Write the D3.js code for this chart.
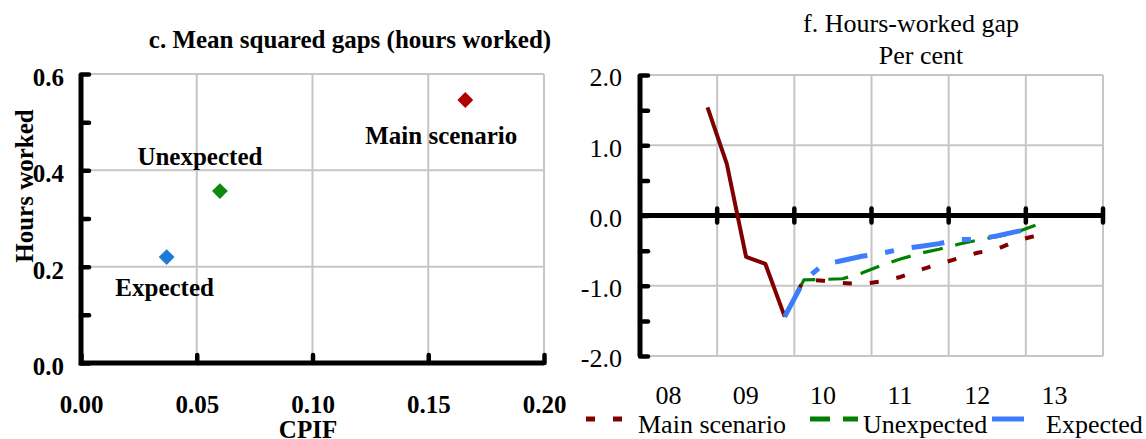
<!DOCTYPE html>
<html>
<head>
<meta charset="utf-8">
<script src="https://cdn.jsdelivr.net/npm/d3@7"></script>
<style>
  html, body { margin: 0; padding: 0; background: #fff; }
  svg, svg text { font-family: "Liberation Serif", "Times New Roman", serif; }
  svg { display: block; }
</style>
</head>
<body>
<div id="chart"></div>
<script>
// panel c: mean squared gaps
const scenarioNames = ["Main scenario", "Unexpected", "Expected"];
const cpifGap = [0.166, 0.060, 0.037];
const hoursGap = [0.546, 0.357, 0.220];

// panel f: hours-worked gap, quarterly
const outcomeQuarters = ["2008Q4", "2009Q1", "2009Q2", "2009Q3", "2009Q4"];
const outcome = [1.54, 0.735, -0.59, -0.69, -1.44];

const forecastQuarters = [
  "2009Q4", "2010Q1", "2010Q2", "2010Q3", "2010Q4", "2011Q1", "2011Q2",
  "2011Q3", "2011Q4", "2012Q1", "2012Q2", "2012Q3", "2012Q4", "2013Q1"
];
const mainScenario = [-1.44, -0.91, -0.93, -0.96, -0.975, -0.94, -0.875, -0.775, -0.69, -0.61, -0.53, -0.48, -0.36, -0.29];
const unexpected = [-1.44, -0.915, -0.91, -0.90, -0.82, -0.71, -0.62, -0.54, -0.48, -0.41, -0.35, -0.30, -0.24, -0.14];
const expected = [-1.44, -0.925, -0.70, -0.64, -0.58, -0.54, -0.48, -0.44, -0.40, -0.34, -0.34, -0.29, -0.23, -0.17];

const years = [2008, 2009, 2010, 2011, 2012, 2013];
const yearLabels = ["08", "09", "10", "11", "12", "13"];

const W = 1146, H = 439;
const SERIF = "'Liberation Serif', 'Times New Roman', serif";
const BOLD_FONT = 25;
const FONT = 26;
const GRID = "#c6c6c6";

const svg = d3.select("#chart").append("svg")
  .attr("width", W).attr("height", H)
  .attr("viewBox", `0 0 ${W} ${H}`)
  .attr("font-family", SERIF);
svg.append("rect").attr("width", W).attr("height", H).attr("fill", "#fff");

function quarterToYear(q) {
  const y = +q.slice(0, 4);
  const n = +q.slice(5);
  return y + (n - 0.5) / 4;
}

function styleAxis(g, size, weight) {
  g.attr("font-family", SERIF).attr("font-size", size);
  g.select(".domain").remove();
  g.selectAll(".tick line").attr("stroke", "#000").attr("stroke-width", 4.5).attr("stroke-linecap", "round");
  g.selectAll(".tick text")
    .attr("fill", "#000")
    .attr("font-family", SERIF)
    .attr("font-size", size)
    .attr("font-weight", weight);
}

// ---------- left panel ----------
const xL = d3.scaleLinear().domain([0, 0.2]).range([81, 544]);
const yL = d3.scaleLinear().domain([0, 0.6]).range([363, 74]);
const left = svg.append("g").attr("font-weight", "bold");

left.append("text")
  .attr("x", 350).attr("y", 48)
  .attr("text-anchor", "middle")
  .attr("font-size", BOLD_FONT)
  .text("c. Mean squared gaps (hours worked)");

const gl = left.append("g").attr("stroke", GRID).attr("stroke-width", 2);
gl.selectAll(".vx").data([0.05, 0.1, 0.15, 0.2]).join("line")
  .attr("x1", d => xL(d)).attr("x2", d => xL(d))
  .attr("y1", yL(0.6)).attr("y2", yL(0));
gl.selectAll(".hy").data([0.2, 0.4, 0.6]).join("line")
  .attr("x1", xL(0)).attr("x2", xL(0.2))
  .attr("y1", d => yL(d)).attr("y2", d => yL(d));

const yAxisL = d3.axisLeft(yL)
  .tickValues(d3.range(0, 0.61, 0.1).map(v => +v.toFixed(1)))
  .tickSize(-8).tickPadding(17)
  .tickFormat(v => (Math.round(v * 10) % 2 === 0 ? v.toFixed(1) : ""));
const gyL = left.append("g").attr("transform", `translate(${xL(0)},0)`).call(yAxisL);
styleAxis(gyL, BOLD_FONT, "bold");
gyL.selectAll(".tick text").attr("dy", "0.46em");

const xAxisL = d3.axisBottom(xL)
  .tickValues([0, 0.05, 0.1, 0.15, 0.2])
  .tickSize(-8).tickPadding(32)
  .tickFormat(v => v.toFixed(2));
const gxL = left.append("g").attr("transform", `translate(0,${yL(0)})`).call(xAxisL);
styleAxis(gxL, BOLD_FONT, "bold");

left.append("path")
  .attr("d", `M${xL(0)},${yL(0.6)}V${yL(0)}H${xL(0.2)}`)
  .attr("fill", "none").attr("stroke", "#000").attr("stroke-width", 5);

left.append("text")
  .attr("transform", "translate(33,186) rotate(-90)")
  .attr("text-anchor", "middle")
  .attr("font-size", BOLD_FONT)
  .text("Hours worked");
left.append("text")
  .attr("x", 308).attr("y", 438)
  .attr("text-anchor", "middle")
  .attr("font-size", BOLD_FONT)
  .text("CPIF");

const markerColors = ["#b00000", "#0b8a0b", "#1f7ad4"];
const labelOffsets = [[-24, 44], [-20, -26], [-2, 39]];
const points = scenarioNames.map((name, i) => ({ name, x: cpifGap[i], y: hoursGap[i], i }));

left.selectAll(".pt").data(points).join("path")
  .attr("d", d3.symbol(d3.symbolSquare, 125))
  .attr("transform", d => `translate(${xL(d.x)},${yL(d.y)}) rotate(45)`)
  .attr("fill", d => markerColors[d.i]);

left.selectAll(".lbl").data(points).join("text")
  .attr("x", d => xL(d.x) + labelOffsets[d.i][0])
  .attr("y", d => yL(d.y) + labelOffsets[d.i][1])
  .attr("text-anchor", "middle")
  .attr("font-size", BOLD_FONT)
  .text(d => d.name);

// ---------- right panel ----------
const xR = d3.scaleLinear().domain([2008, 2014]).range([640, 1103]);
const yR = d3.scaleLinear().domain([-2, 2]).range([356, 75]);
const right = svg.append("g");

right.append("text")
  .attr("x", 911).attr("y", 32)
  .attr("text-anchor", "middle").attr("font-size", FONT)
  .text("f. Hours-worked gap");
right.append("text")
  .attr("x", 921).attr("y", 64)
  .attr("text-anchor", "middle").attr("font-size", FONT)
  .text("Per cent");

const gr = right.append("g").attr("stroke", GRID).attr("stroke-width", 2);
gr.selectAll(".vx").data(d3.range(2009, 2015)).join("line")
  .attr("x1", d => xR(d)).attr("x2", d => xR(d))
  .attr("y1", yR(2)).attr("y2", yR(-2));
gr.selectAll(".hy").data([-2, -1, 1, 2]).join("line")
  .attr("x1", xR(2008)).attr("x2", xR(2014))
  .attr("y1", d => yR(d)).attr("y2", d => yR(d));

const yAxisR = d3.axisLeft(yR)
  .tickValues(d3.range(-2, 2.01, 0.5))
  .tickSize(-8).tickPadding(18)
  .tickFormat(v => (Number.isInteger(v) ? v.toFixed(1) : ""));
const gyR = right.append("g").attr("transform", `translate(${xR(2008)},0)`).call(yAxisR);
styleAxis(gyR, FONT, "normal");
gyR.selectAll(".tick text").attr("dy", "0.42em");

right.append("line")
  .attr("x1", xR(2008)).attr("x2", xR(2008))
  .attr("y1", yR(2)).attr("y2", yR(-2))
  .attr("stroke", "#000").attr("stroke-width", 5);
right.append("line")
  .attr("x1", xR(2008)).attr("x2", xR(2014))
  .attr("y1", yR(0)).attr("y2", yR(0))
  .attr("stroke", "#000").attr("stroke-width", 5);
right.selectAll(".zt").data(d3.range(2009, 2015)).join("line")
  .attr("x1", d => xR(d)).attr("x2", d => xR(d))
  .attr("y1", yR(0) - 7).attr("y2", yR(0) + 7)
  .attr("stroke", "#000").attr("stroke-width", 4.5).attr("stroke-linecap", "round");

right.selectAll(".yl").data(years).join("text")
  .attr("x", d => xR(d + 0.5) - 10)
  .attr("y", 404)
  .attr("text-anchor", "middle").attr("font-size", FONT)
  .text((d, i) => yearLabels[i]);

const line = d3.line().x(d => xR(d.t)).y(d => yR(d.v));
const toPts = (qs, vals) => qs.map((q, i) => ({ t: quarterToYear(q), v: vals[i] }));

const series = [
  { name: "Main scenario", values: mainScenario, color: "#800000", width: 4, dash: "9,18" },
  { name: "Unexpected", values: unexpected, color: "#008000", width: 3.2, dash: "20,13" },
  { name: "Expected", values: expected, color: "#3d7dfb", width: 5, dash: "33,18,9,18" }
];

right.append("path")
  .datum(toPts(outcomeQuarters, outcome))
  .attr("d", line)
  .attr("fill", "none").attr("stroke", "#800000").attr("stroke-width", 4)
  .attr("stroke-linejoin", "round");

[series[1], series[0], series[2]].forEach(s => {
  right.append("path")
    .datum(toPts(forecastQuarters, s.values))
    .attr("d", line)
    .attr("fill", "none")
    .attr("stroke", s.color)
    .attr("stroke-width", s.width)
    .attr("stroke-dasharray", s.dash)
    .attr("stroke-linejoin", "round");
});

// legend
const legendX = [[586, 622, 638], [810, 858, 863], [992, 1024, 1046]];
const legend = right.selectAll(".lg").data(series).join("g");
legend.append("line")
  .attr("x1", (d, i) => legendX[i][0]).attr("x2", (d, i) => legendX[i][1])
  .attr("y1", 419).attr("y2", 419)
  .attr("stroke", d => d.color)
  .attr("stroke-width", 5)
  .attr("stroke-dasharray", d => d.dash);
legend.append("text")
  .attr("x", (d, i) => legendX[i][2]).attr("y", 433)
  .attr("font-size", FONT)
  .text(d => d.name);
</script>
</body>
</html>
